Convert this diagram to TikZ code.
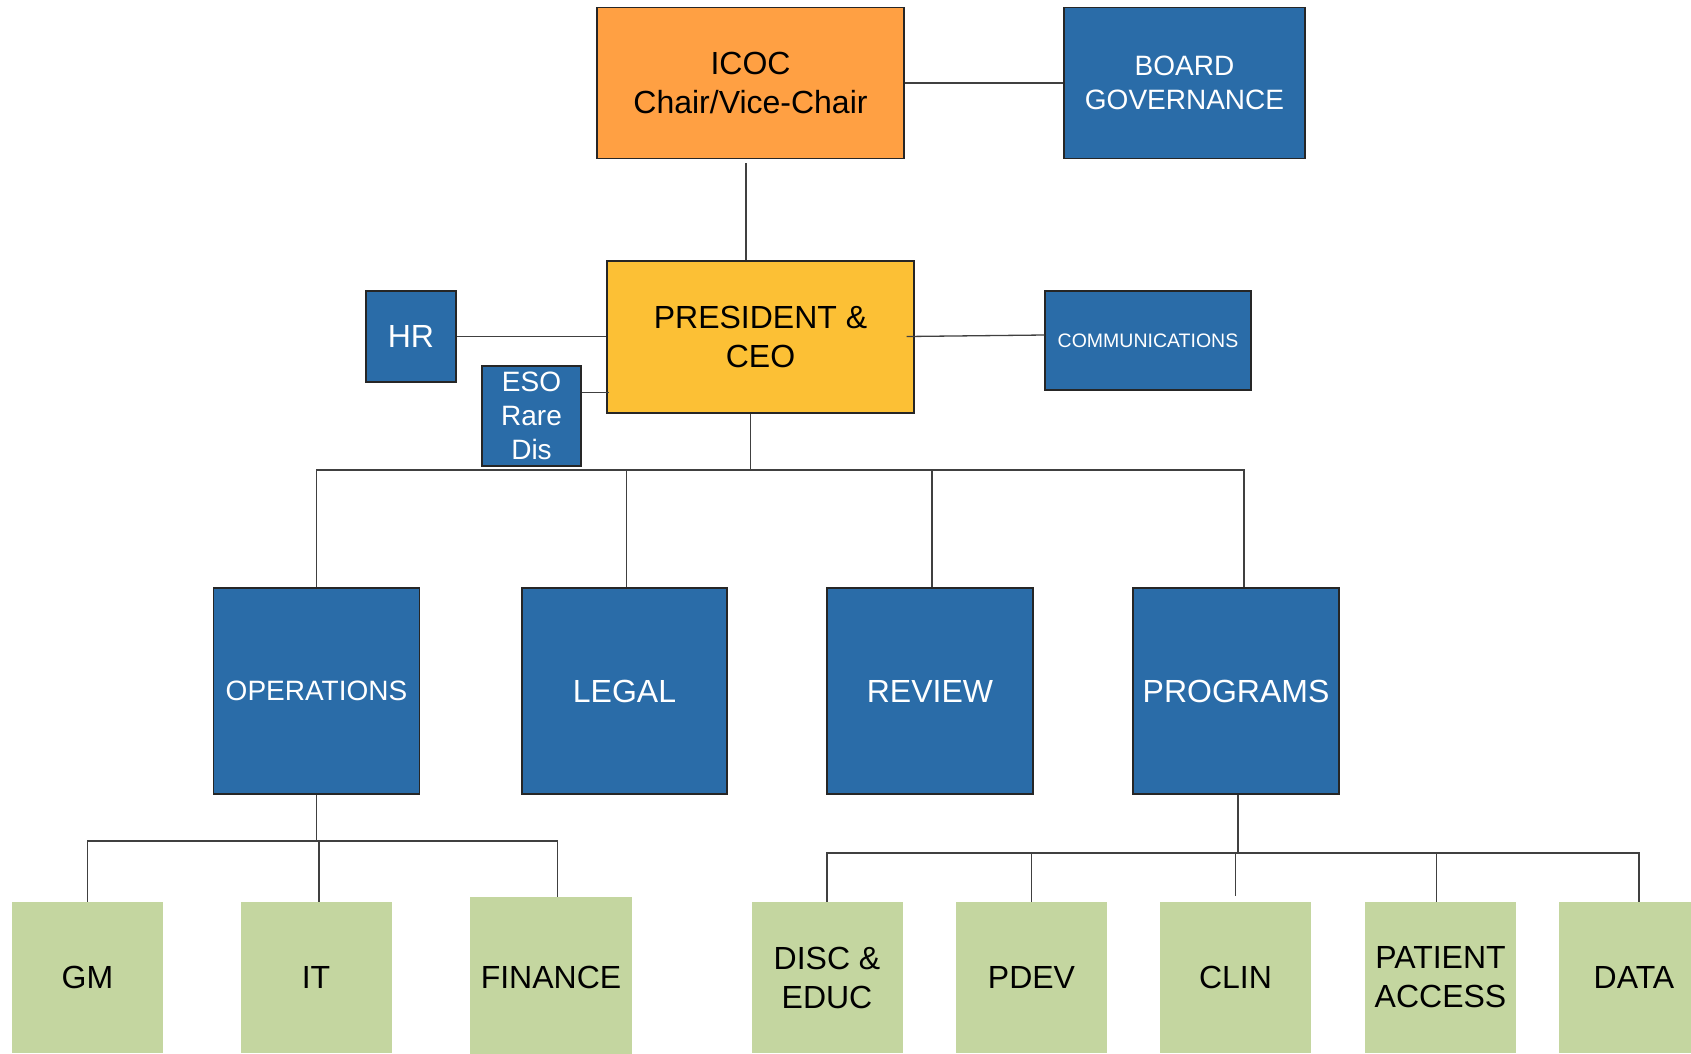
\documentclass[tikz,border=0pt]{standalone}
\usepackage{fontspec}
\setmainfont{Liberation Sans}
\usetikzlibrary{calc}
\definecolor{cblue}{HTML}{2A6CA8}
\definecolor{corange}{HTML}{FFA043}
\definecolor{cyellow}{HTML}{FCC035}
\definecolor{cgreen}{HTML}{C4D6A0}
\definecolor{cline}{HTML}{404040}
\definecolor{cborder}{HTML}{262626}
\tikzset{
  box/.style={rectangle, draw=cborder, line width=1.4pt, align=center, inner sep=0pt},
  bluebox/.style={box, fill=cblue, text=white},
  orangebox/.style={box, fill=corange, text=black},
  yellowbox/.style={box, fill=cyellow, text=black},
  greenbox/.style={rectangle, draw=none, fill=cgreen, text=black, align=center, inner sep=0pt,
     minimum width=151pt, minimum height=151pt},
  conn/.style={draw=cline, line width=1.3pt},
  big/.style={font=\fontsize{32}{39}\selectfont},
  mid/.style={font=\fontsize{28}{34}\selectfont},
  small/.style={font=\fontsize{19.5}{24}\selectfont},
}
\begin{document}
\begin{tikzpicture}[x=1pt,y=-1pt]
\useasboundingbox[fill=white] (0,0) rectangle (1691,1053);
% top level
\node[orangebox, big, minimum width=307pt, minimum height=151pt] (icoc) at (750.5,83) {ICOC\\Chair/Vice-Chair};
\node[bluebox, mid, minimum width=241pt, minimum height=151pt] (board) at (1184.5,83) {BOARD\\GOVERNANCE};
% president level
\node[yellowbox, big, minimum width=307pt, minimum height=152pt] (pres) at (760.5,337) {PRESIDENT \&\\CEO};
\node[bluebox, big, minimum width=90pt, minimum height=91pt] (hr) at (411,336.5) {HR};
\node[bluebox, mid, minimum width=99pt, minimum height=100pt] (eso) at (531.5,416) {ESO\\Rare\\Dis};
\node[bluebox, small, minimum width=206pt, minimum height=99pt] (comm) at (1148,340.5) {COMMUNICATIONS};
% middle level
\node[bluebox, mid, minimum width=206pt, minimum height=206pt] (ops) at (316.5,691) {OPERATIONS};
\node[bluebox, big, minimum width=205pt, minimum height=206pt] (legal) at (624.5,691) {LEGAL};
\node[bluebox, big, minimum width=206pt, minimum height=206pt] (review) at (930,691) {REVIEW};
\node[bluebox, big, minimum width=206pt, minimum height=206pt] (prog) at (1236,691) {PROGRAMS};
% bottom level
\node[greenbox, big] (gm) at (87.5,977.5) {GM};
\node[greenbox, big] (it) at (316,977.5) {IT};
\node[greenbox, big, minimum width=162pt, minimum height=161pt] (fin) at (551,977.5) {FINANCE};
\node[greenbox, big] (disc) at (827,977.5) {DISC \&\\EDUC};
\node[greenbox, big] (pdev) at (1031.5,977.5) {PDEV};
\node[greenbox, big] (clin) at (1235.5,977.5) {CLIN};
\node[greenbox, big] (pat) at (1440.5,977.5) {PATIENT\\ACCESS};
\node[greenbox, big] (data) at (1634,977.5) {DATA};
% connectors top
\draw[conn] (icoc.east) -- (board.west);
\coordinate (icocbot) at ([xshift=-4.5pt,yshift=-4pt]icoc.south);
\draw[conn] (icocbot) -- (icocbot |- pres.north);
\draw[conn] (hr.east) -- (hr.east -| pres.west);
\coordinate (esoc) at ([yshift=23.5pt]eso.east);
\draw[conn] (esoc) -- ([xshift=3pt]esoc -| pres.west);
\coordinate (commc) at ([yshift=5.5pt]comm.west);
\draw[conn] ([xshift=-8pt,yshift=0.5pt]pres.east) -- (commc);
% trunk to middle level
\coordinate (bus1) at (0,470);
\coordinate (trunk) at ([xshift=-10pt]pres.south);
\coordinate (progtop) at ([xshift=8pt]prog.north);
\draw[conn] (trunk) -- (trunk |- bus1);
\draw[conn] (ops.north) -- (ops.north |- bus1) -- (bus1 -| progtop) -- (progtop);
\draw[conn] ([xshift=2pt]legal.north) -- ([xshift=2pt]legal.north |- bus1);
\draw[conn] ([xshift=2pt]review.north) -- ([xshift=2pt]review.north |- bus1);
% operations subtree
\coordinate (bus2) at (0,841);
\coordinate (ittop) at ([xshift=3pt]it.north);
\coordinate (fintop) at ([xshift=6.5pt]fin.north);
\draw[conn] (ops.south) -- (ops.south |- bus2);
\draw[conn] (gm.north) -- (gm.north |- bus2) -- (bus2 -| fintop) -- (fintop);
\draw[conn] (ittop |- bus2) -- (ittop);
% programs subtree
\coordinate (bus3) at (0,853);
\coordinate (progbot) at ([xshift=2pt]prog.south);
\coordinate (clintop) at ([yshift=6pt]clin.north);
\coordinate (pattop) at ([xshift=-4pt]pat.north);
\coordinate (datatop) at ([xshift=5pt]data.north);
\draw[conn] (progbot) -- (progbot |- bus3);
\draw[conn] (disc.north) -- (disc.north |- bus3) -- (bus3 -| datatop) -- (datatop);
\draw[conn] (pdev.north |- bus3) -- (pdev.north);
\draw[conn] (clintop |- bus3) -- (clintop);
\draw[conn] (pattop |- bus3) -- (pattop);
\end{tikzpicture}
\end{document}
